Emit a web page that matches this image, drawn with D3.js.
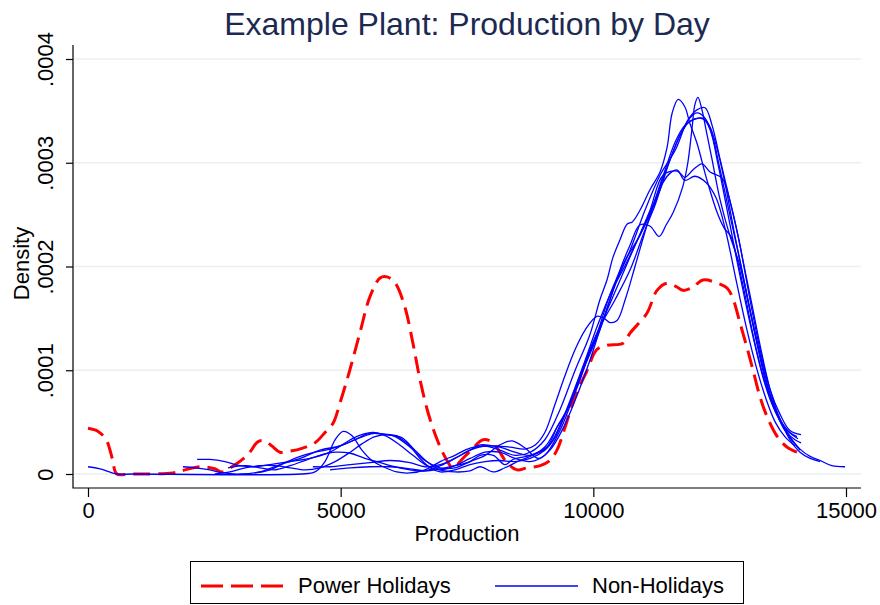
<!DOCTYPE html>
<html>
<head>
<meta charset="utf-8">
<script src="https://cdn.jsdelivr.net/npm/d3@7/dist/d3.min.js"></script>
<style>
body { margin: 0; background: #fff; }
svg text { font-family: "Liberation Sans", Arial, Helvetica, sans-serif; }
</style>
</head>
<body>
<div id="chart"></div>
<script>
// densities below are written in units of 1e-5
var DENS_UNIT = 1e-5;

var titleText = "Example Plant: Production by Day";
var xTitle = "Production";
var yTitle = "Density";
var xTicks = [0, 5000, 10000, 15000];
var yTicks = [0, 0.0001, 0.0002, 0.0003, 0.0004];
var yTickLabels = ["0", ".0001", ".0002", ".0003", ".0004"];
var seriesNames = ["Power Holidays", "Non-Holidays"];

// [production, density]
var powerHolidays = [
    [0,4.4],[200,4.1],[360,3.3],[480,1.5],[570,0],[800,0],[1030,0],[1680,0.1],[1920,0.4],[2220,0.7],[2510,0.5],
    [2650,0.2],[2910,0.9],[3170,1.9],[3360,3.1],[3500,3.2],[3640,2.7],[3800,2.1],[4000,2.2],[4250,2.5],
    [4490,3.0],[4690,4.0],[4850,4.9],[4990,6.9],[5180,10.0],[5380,13.6],[5580,17.1],[5780,18.9],[5920,19.0],
    [6080,18.4],[6270,16.1],[6430,12.6],[6570,9.1],[6730,5.9],[6910,3.3],[7070,1.6],[7220,0.6],[7380,1.3],
    [7580,2.3],[7820,3.3],[8020,3.0],[8150,2.1],[8290,1.1],[8490,0.4],[8690,0.6],[8950,0.8],[9140,1.3],
    [9280,2.3],[9440,4.5],[9640,7.5],[9870,9.9],[10070,12.0],[10270,12.4],[10590,12.6],[10730,13.6],
    [11060,15.5],[11260,17.7],[11460,18.4],[11660,18.0],[11780,17.7],[11970,18.0],[12170,18.7],[12450,18.4],
    [12650,17.9],[12770,16.8],[12900,14.6],[13040,12.2],[13160,10.0],[13300,7.4],[13440,5.5],[13640,3.6],
    [13830,2.6],[14030,2.1]
];

var dayA = [
    [0,0.7],[240,0.5],[570,0],[900,0],[4200,0],[4490,0.2],[4690,1.2],[4890,3.3],[5050,4.1],[5220,3.7],[5420,2.3],
    [5620,1.3],[5840,0.7],[6110,0.2],[6370,0.1],[6670,0.4],[6970,1.2],[7260,1.8],[7560,2.5],[7860,2.7],
    [8150,2.3],[8450,1.8],[8750,2.1],[9040,3.3],[9340,6.2],[9640,10.0],[9930,13.4],[10130,16.8],[10270,18.7],
    [10390,20.9],[10530,22.6],[10670,24.1],[10770,24.3],[10920,25.4],[11120,27.4],[11320,29.1],[11460,31.5],
    [11560,34.8],[11680,36.1],[11810,35.4],[11910,33.8],[12050,31.9],[12250,28.3],[12450,25.2],[12590,23.7],
    [12720,22.9],[12860,20.4],[13000,17.3],[13140,13.9],[13300,10.5],[13500,7.3],[13700,5.2],[13890,4.0],
    [14030,3.6]
];
var dayB = [
    [1880,0.7],[2120,0.6],[2410,0.4],[2670,0.1],[3010,0],[3400,0.2],[3800,0.9],[4200,1.5],[4590,2.3],
    [4990,2.7],[5280,3.3],[5620,4.0],[5880,3.7],[6170,2.8],[6430,1.8],[6710,0.8],[6970,0.4],[7260,0.8],
    [7560,1.5],[7860,2.1],[8150,2.1],[8450,1.5],[8750,1.2],[9040,1.8],[9340,4.2],[9580,7.1],[9840,10.5],
    [10130,13.9],[10330,16.8],[10530,19.7],[10730,22.1],[10920,24.0],[11120,23.9],[11300,22.9],[11440,24.0],
    [11580,25.2],[11770,27.7],[11870,30.0],[11950,33.2],[12010,35.6],[12070,36.3],[12150,35.1],[12230,33.2],
    [12350,30.3],[12510,26.4],[12700,23.0],[12900,20.1],[13100,15.8],[13300,11.5],[13500,7.6],[13700,5.2],
    [13890,3.3],[14090,2.1],[14290,1.5],[14490,1.2]
];
var dayC = [
    [2160,1.4],[2410,1.4],[2710,1.2],[3010,0.8],[3300,0.7],[3600,0.9],[4000,1.2],[4390,1.5],[4790,2.1],
    [5190,3.3],[5480,3.9],[5780,3.9],[6080,3.6],[6370,2.6],[6670,1.3],[6970,0.6],[7260,0.6],[7560,1.2],
    [7860,1.8],[8150,2.8],[8390,3.2],[8650,2.5],[8910,1.5],[9140,2.3],[9380,4.2],[9640,7.1],[9900,10.5],
    [10130,13.9],[10430,18.2],[10730,21.6],[11020,25.4],[11320,28.8],[11620,31.2],[11870,34.1],[12050,35.1],
    [12210,35.3],[12350,33.6],[12510,30.3],[12700,26.4],[12900,22.1],[13100,16.8],[13300,12.0],[13500,8.1],
    [13700,5.7],[13890,4.2],[14110,3.8]
];
var dayD = [
    [4450,0.7],[4790,0.7],[5190,0.9],[5580,1.1],[5980,1.3],[6370,1.1],[6670,0.7],[6970,0.9],[7260,1.5],
    [7560,2.3],[7860,2.7],[8150,2.6],[8450,2.1],[8750,1.8],[9040,2.6],[9280,4.5],[9480,6.2],[9740,9.5],
    [10030,12.9],[10330,17.3],[10630,20.6],[10920,23.0],[11220,26.4],[11480,29.8],[11720,32.7],[11910,34.3],
    [12050,34.8],[12210,34.3],[12350,32.7],[12510,29.3],[12700,25.0],[12900,20.6],[13100,15.8],[13300,11.5],
    [13500,7.6],[13700,5.2],[13890,3.6],[14090,2.4],[14290,1.7],[14490,1.3],[14720,0.8],[14980,0.7]
];
var dayE = [
    [2770,0.6],[3110,0.8],[3400,0.6],[3700,0.4],[4000,0.8],[4290,1.3],[4590,1.8],[4890,2.1],[5190,2.0],
    [5480,1.5],[5780,1.1],[6080,0.7],[6370,0.4],[6670,0.3],[6970,0.8],[7260,1.5],[7560,2.3],[7760,2.8],
    [8050,2.7],[8350,2.6],[8650,2.4],[8850,2.8],[9040,4.0],[9240,6.7],[9440,9.5],[9640,12.0],[9840,13.9],
    [10070,15.2],[10210,15.0],[10330,14.6],[10470,14.8],[10630,16.8],[10830,20.1],[11020,23.3],[11220,26.4],
    [11420,29.3],[11620,32.0],[11810,33.6],[12010,34.2],[12170,34.3],[12310,33.2],[12470,29.8],[12630,25.9],
    [12800,21.6],[13000,16.8],[13200,12.4],[13400,8.6],[13600,6.0],[13790,4.4],[14050,3.4]
];
var dayF = [
    [3300,0.1],[3600,0.4],[3900,1.1],[4200,1.7],[4490,2.1],[4790,2.4],[5090,2.9],[5380,3.5],[5640,3.9],
    [5880,3.8],[6120,3.6],[6370,2.7],[6570,1.5],[6770,0.6],[6970,0.2],[7260,0.4],[7560,0.9],[7860,1.2],
    [8150,1.3],[8450,1.2],[8750,1.5],[9040,2.3],[9240,3.5],[9440,5.7],[9680,8.6],[9930,12.0],[10230,15.3],
    [10530,18.7],[10830,22.1],[11120,25.4],[11380,28.8],[11660,29.2],[11810,28.6],[11970,29.3],[12150,29.9],
    [12310,29.1],[12550,28.5],[12700,26.4],[12840,23.5],[12980,20.1],[13140,16.3],[13300,12.4],[13500,8.1],
    [13700,5.2],[13890,3.5],[14090,2.3]
];
var dayG = [
    [4790,0.4],[5190,0.6],[5580,0.7],[5980,0.7],[6370,0.5],[6670,0.3],[6970,0.5],[7260,0.8],[7560,1.2],
    [7760,1.8],[8020,1.8],[8250,0.9],[8410,1.4],[8750,1.8],[9080,2.6],[9280,4.5],[9480,6.2],[9700,8.6],
    [9930,11.8],[10190,14.7],[10430,16.8],[10730,19.7],[11020,23.5],[11220,25.9],[11380,28.1],[11520,29.0],
    [11660,29.3],[11810,28.3],[12010,28.7],[12230,28.1],[12430,26.6],[12620,23.4],[12820,18.8],[13020,14.3],
    [13220,10.4],[13420,7.2],[13600,5.0],[13790,3.6],[13990,2.7]
];
var dayH = [
    [2510,0],[2810,0.2],[3110,0.6],[3400,0.8],[3700,0.8],[4000,0.6],[4290,0.4],[4590,0.6],[4890,1.2],
    [5190,2.1],[5420,2.9],[5680,3.6],[5980,3.8],[6210,3.5],[6470,2.3],[6730,1.1],[6970,0.4],[7260,0.2],
    [7560,0.3],[7760,0.7],[8020,0.2],[8250,0.6],[8550,1.3],[8850,1.9],[9100,2.6],[9340,4.7],[9580,7.6],
    [9840,11.0],[10090,14.4],[10370,17.7],[10630,20.1],[10880,22.6],[11120,25.0],[11320,27.4],[11520,30.3],
    [11720,32.7],[11910,34.0],[12110,34.3],[12270,33.8],[12430,31.7],[12610,27.9],[12800,23.0],[13000,18.2],
    [13200,13.4],[13400,9.1],[13600,6.2],[13790,4.2],[13990,3.3],[14110,3.0]
];
var nonHolidays = [dayA, dayB, dayC, dayD, dayE, dayF, dayG, dayH];

class DensityChart {

    constructor(params) {
        var self = this;
        self.node = params.container;
        self.width = params.width;
        self.height = params.height;
        self.box = { left: 73, right: 861, top: 45, bottom: 488 }; // cadre des axes
        self.inset = { x: 15, y: 14 };
        self.gridColor = "#e8f0f2";
        self.titleColor = "#1c2a52";
        self.svg = d3.select(self.node).append("svg")
            .attr("width", self.width)
            .attr("height", self.height);
        self.x = d3.scaleLinear()
            .domain([0, 15000])
            .range([self.box.left + self.inset.x, self.box.right - self.inset.x]);
        self.y = d3.scaleLinear()
            .domain([0, 0.0004])
            .range([self.box.bottom - self.inset.y, self.box.top + self.inset.y]);
    }
    draw() {
        this.drawGrid();
        this.drawSeries();
        this.drawAxes();
        this.drawTitles();
        this.drawLegend();
    }
    drawGrid() {
        var self = this;
        self.svg.append("g").attr("class", "grid")
            .selectAll("line").data(yTicks).enter().append("line")
            .attr("x1", self.box.left + 1).attr("x2", self.box.right)
            .attr("y1", d => self.y(d)).attr("y2", d => self.y(d))
            .attr("stroke", self.gridColor)
            .attr("stroke-width", 1.6);
    }
    drawSeries() {
        var self = this;
        var line = d3.line()
            .x(d => self.x(d[0]))
            .y(d => self.y(Math.max(0, d[1]) * DENS_UNIT))
            .curve(d3.curveCatmullRom.alpha(0.5));
        var g = self.svg.append("g").attr("class", "series");
        g.append("path")
            .datum(powerHolidays)
            .attr("d", line)
            .attr("fill", "none")
            .attr("stroke", "#ff0000")
            .attr("stroke-width", 3)
            .attr("stroke-dasharray", "17,8");
        g.selectAll("path.day").data(nonHolidays).enter().append("path")
            .attr("class", "day")
            .attr("d", line)
            .attr("fill", "none")
            .attr("stroke", "#0000ff")
            .attr("stroke-width", 1.3)
            .attr("stroke-linejoin", "round");
    }
    drawAxes() {
        var self = this;
        var xAxis = self.svg.append("g")
            .attr("transform", "translate(0," + self.box.bottom + ")")
            .call(d3.axisBottom(self.x).tickValues(xTicks).tickFormat(d3.format("d")).tickSize(9).tickSizeOuter(0).tickPadding(5));
        var yAxis = self.svg.append("g")
            .attr("transform", "translate(" + self.box.left + ",0)")
            .call(d3.axisLeft(self.y).tickValues(yTicks).tickSize(7).tickSizeOuter(0));
        [xAxis, yAxis].forEach(function(a) {
            a.select(".domain").remove();
            a.selectAll(".tick line").attr("stroke", "#000").attr("stroke-width", 1.2);
            a.selectAll("text").attr("font-size", 22).attr("fill", "#000")
                .style("font-family", '"Liberation Sans", Arial, sans-serif');
        });
        // libellés verticaux
        yAxis.selectAll(".tick text")
            .text((d, i) => yTickLabels[i])
            .attr("text-anchor", "middle")
            .attr("transform", "rotate(-90)")
            .attr("x", 0).attr("y", -20).attr("dy", 0);
        self.svg.append("path")
            .attr("d", "M" + self.box.left + "," + self.box.top + "V" + self.box.bottom + "H" + self.box.right)
            .attr("fill", "none")
            .attr("stroke", "#000")
            .attr("stroke-width", 1.2);
    }
    drawTitles() {
        var self = this;
        self.svg.append("text")
            .attr("x", 467).attr("y", 35)
            .attr("text-anchor", "middle")
            .attr("font-size", 32)
            .attr("fill", self.titleColor)
            .text(titleText);
        self.svg.append("text")
            .attr("x", (self.box.left + self.box.right) / 2).attr("y", 541)
            .attr("text-anchor", "middle")
            .attr("font-size", 22)
            .text(xTitle);
        self.svg.append("text")
            .attr("transform", "translate(29," + ((self.box.top + self.box.bottom) / 2 - 3) + ") rotate(-90)")
            .attr("text-anchor", "middle")
            .attr("font-size", 22)
            .text(yTitle);
    }
    drawLegend() {
        var self = this;
        var lg = self.svg.append("g").attr("class", "legend").attr("transform", "translate(190,561)");
        lg.append("rect")
            .attr("x", 0.5).attr("y", 0.5)
            .attr("width", 553).attr("height", 42)
            .attr("fill", "#fff").attr("stroke", "#000").attr("stroke-width", 1);
        var items = [
            { name: seriesNames[0], color: "#ff0000", width: 3, dash: "22,8", x: 11 },
            { name: seriesNames[1], color: "#0000ff", width: 1.3, dash: null, x: 305 }
        ];
        items.forEach(function(it) {
            lg.append("line")
                .attr("x1", it.x).attr("x2", it.x + 83)
                .attr("y1", 25).attr("y2", 25)
                .attr("stroke", it.color)
                .attr("stroke-width", it.width)
                .attr("stroke-dasharray", it.dash);
            lg.append("text")
                .attr("x", it.x + 97).attr("y", 32)
                .attr("font-size", 22)
                .text(it.name);
        });
    }
}

var chart = new DensityChart({ container: "#chart", width: 880, height: 605 });
chart.draw();
</script>
</body>
</html>
